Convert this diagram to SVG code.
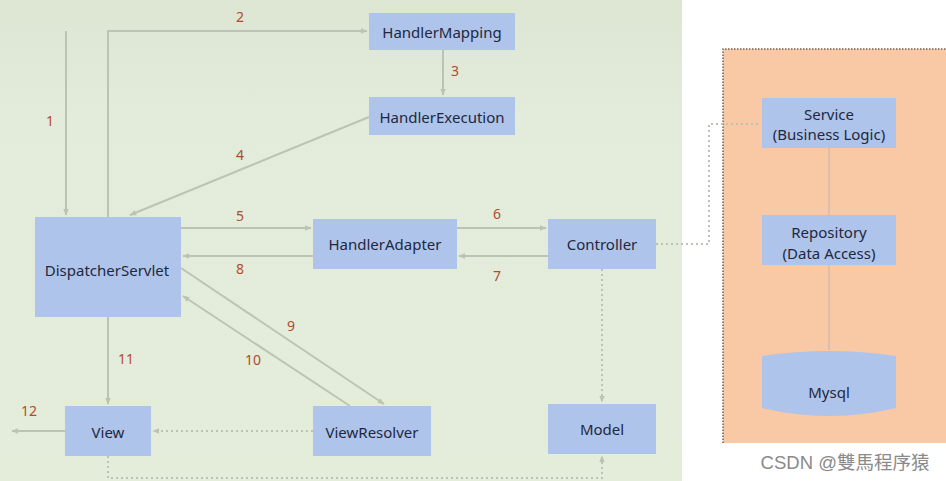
<svg xmlns="http://www.w3.org/2000/svg" width="946" height="481" viewBox="0 0 946 481">
<defs>
<linearGradient id="bg" x1="0" y1="0" x2="0" y2="1">
<stop offset="0" stop-color="#DDE6D3"/>
<stop offset="0.25" stop-color="#E3ECDA"/>
<stop offset="1" stop-color="#E4EDDA"/>
</linearGradient>
<marker id="ah" viewBox="0 0 10 10" refX="9" refY="5" markerWidth="7" markerHeight="7" orient="auto" markerUnits="userSpaceOnUse">
<path d="M0,1 L10,5 L0,9 z" fill="#BCC3B6"/>
</marker>
</defs>
<style>
.node{fill:#AFC4EA}
.t{font-family:"Noto Sans","Liberation Sans",sans-serif;font-size:15px;fill:#1E2840;text-anchor:middle;dominant-baseline:central}
.n{font-family:"Noto Sans","Liberation Sans",sans-serif;font-size:14px;fill:#B24A30;text-anchor:middle;dominant-baseline:central}
.c{fill:none;stroke:#BCC3B6;stroke-width:2}
.d{fill:none;stroke:#BCC3B6;stroke-width:2;stroke-dasharray:2 3}
.s{fill:none;stroke:#DDBFA8;stroke-width:2}
</style>
<rect x="0" y="0" width="946" height="481" fill="#FFFFFF"/>
<rect x="0" y="0" width="682" height="481" fill="url(#bg)"/>
<rect x="723" y="49" width="223" height="394" fill="#F9C8A4"/>
<path d="M723,443 L723,49 L946,49" fill="none" stroke="#7E5E52" stroke-width="1.5" stroke-dasharray="1.5 1.5"/>

<g id="connectors">
<path class="c" d="M66,31 L66,215" marker-end="url(#ah)"/>
<path class="c" d="M108,217 L108,31 L367,31" marker-end="url(#ah)"/>
<path class="c" d="M443,50 L443,95" stroke-width="1.5" marker-end="url(#ah)"/>
<path class="c" d="M369,117 L130,215" marker-end="url(#ah)"/>
<path class="c" d="M181,228 L311,228" marker-end="url(#ah)"/>
<path class="c" d="M313,256 L183,256" marker-end="url(#ah)"/>
<path class="c" d="M457,228 L546,228" marker-end="url(#ah)"/>
<path class="c" d="M548,256 L459,256" marker-end="url(#ah)"/>
<path class="c" d="M181,268 L384,404" marker-end="url(#ah)"/>
<path class="c" d="M350,406 L183,296" marker-end="url(#ah)"/>
<path class="c" d="M108,317 L108,404" marker-end="url(#ah)"/>
<path class="c" d="M65,431 L12,431" marker-end="url(#ah)"/>
<path class="d" d="M313,431 L153,431" marker-end="url(#ah)"/>
<path class="d" d="M602,269 L602,402" marker-end="url(#ah)"/>
<path class="d" d="M108,456 L108,478 L602,478 L602,456" marker-end="url(#ah)"/>
<path class="d" d="M656,244 L709,244 L709,124 L760,124"/>
<path class="s" d="M829,148 L829,215"/>
<path class="s" d="M829,265 L829,350"/>
<text class="n" x="50" y="120">1</text>
<text class="n" x="240" y="16">2</text>
<text class="n" x="455" y="70">3</text>
<text class="n" x="240" y="154">4</text>
<text class="n" x="240" y="215">5</text>
<text class="n" x="497" y="213">6</text>
<text class="n" x="497" y="275">7</text>
<text class="n" x="240" y="268">8</text>
<text class="n" x="291" y="325">9</text>
<text class="n" x="253" y="359">10</text>
<text class="n" x="126" y="358">11</text>
<text class="n" x="29" y="410">12</text>
</g>

<g id="HandlerMapping"><rect class="node" x="369" y="13" width="146" height="37"/><text class="t" x="442" y="32">HandlerMapping</text></g>
<g id="HandlerExecution"><rect class="node" x="369" y="97" width="146" height="38"/><text class="t" x="442" y="117">HandlerExecution</text></g>
<g id="DispatcherServlet"><rect class="node" x="35" y="217" width="146" height="100"/><text class="t" x="107" y="270">DispatcherServlet</text></g>
<g id="HandlerAdapter"><rect class="node" x="313" y="219" width="144" height="50"/><text class="t" x="385" y="244">HandlerAdapter</text></g>
<g id="Controller"><rect class="node" x="548" y="219" width="108" height="50"/><text class="t" x="602" y="244">Controller</text></g>
<g id="View"><rect class="node" x="65" y="406" width="86" height="50"/><text class="t" x="108" y="432">View</text></g>
<g id="ViewResolver"><rect class="node" x="313" y="406" width="118" height="50"/><text class="t" x="372" y="432">ViewResolver</text></g>
<g id="Model"><rect class="node" x="548" y="404" width="108" height="50"/><text class="t" x="602" y="429">Model</text></g>
<g id="Service"><rect class="node" x="762" y="98" width="134" height="50"/><text class="t" x="829" y="114">Service</text><text class="t" x="829" y="134">(Business Logic)</text></g>
<g id="Repository"><rect class="node" x="762" y="215" width="134" height="50"/><text class="t" x="829" y="232">Repository</text><text class="t" x="829" y="253">(Data Access)</text></g>
<g id="Mysql"><path class="node" d="M762,356 Q829,346 896,356 L896,408 Q829,424 762,408 Z"/><text class="t" x="829" y="392">Mysql</text></g>

<text x="845" y="462" font-family="Liberation Sans,'Noto Sans CJK SC',sans-serif" font-size="18.5" fill="#8A8A8A" text-anchor="middle" dominant-baseline="central">CSDN @雙馬程序猿</text>
</svg>
